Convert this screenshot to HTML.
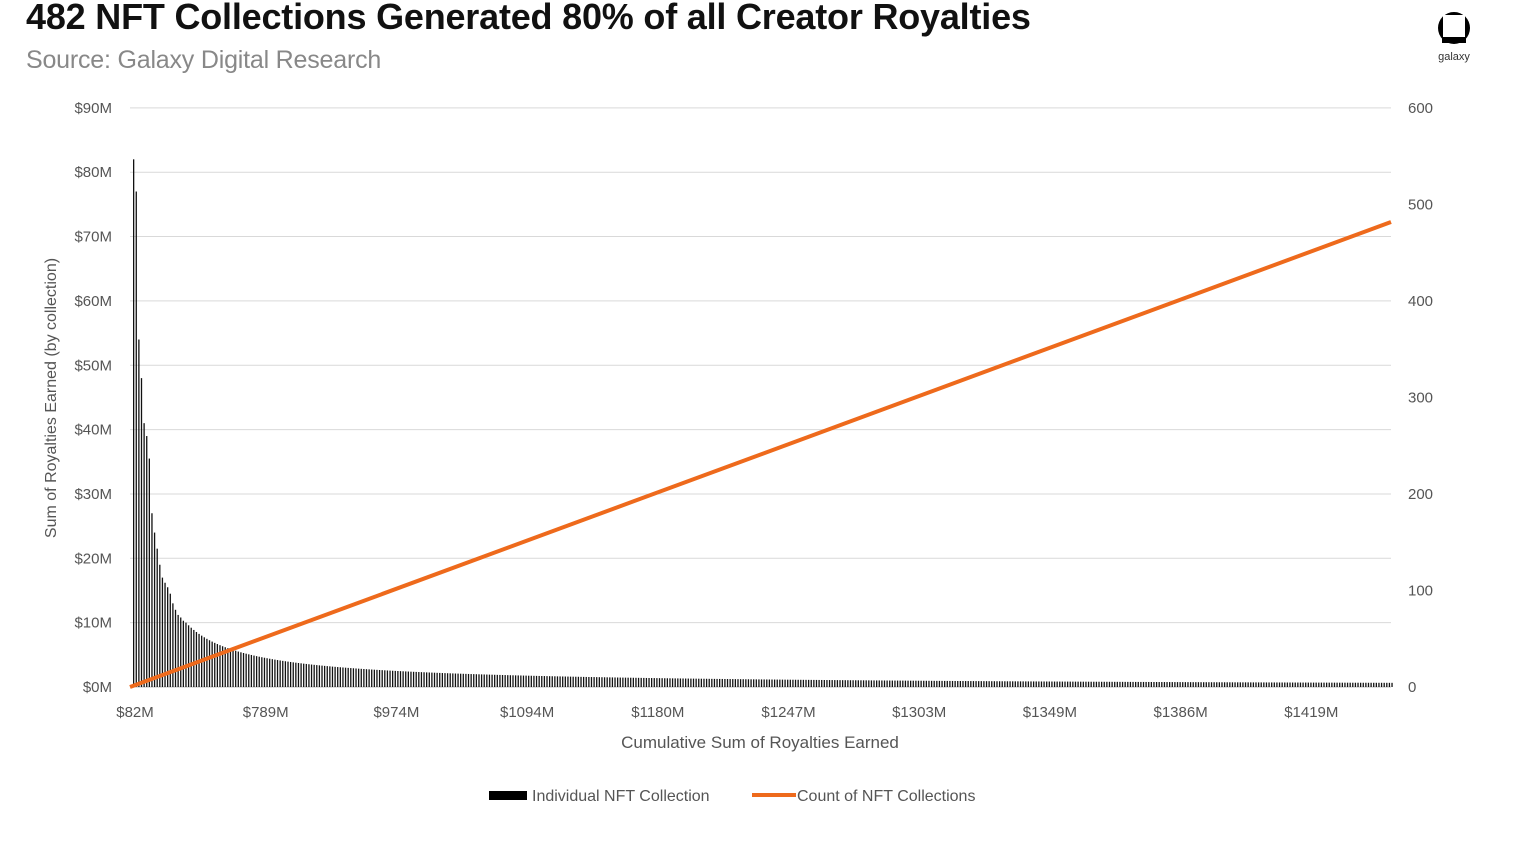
<!DOCTYPE html>
<html><head><meta charset="utf-8"><style>
body{margin:0;background:#fff;width:1522px;height:840px;overflow:hidden;font-family:"Liberation Sans",sans-serif;}
</style></head><body>
<svg id="s" width="1522" height="840" xmlns="http://www.w3.org/2000/svg" font-family="Liberation Sans, sans-serif">
<text x="26" y="29" font-size="36" font-weight="bold" letter-spacing="-0.2" fill="#111">482 NFT Collections Generated 80% of all Creator Royalties</text>
<text x="26" y="68" font-size="25" fill="#888" letter-spacing="-0.2">Source: Galaxy Digital Research</text>
<circle cx="1454" cy="28" r="16" fill="#000"/>
<rect x="1443" y="15" width="22" height="22" fill="#fff"/>
<rect x="1442" y="38" width="24" height="5" fill="#000"/>
<text x="1454" y="60" font-size="11" text-anchor="middle" fill="#333">galaxy</text>
<g id="grid" stroke="#d9d9d9" stroke-width="1"></g>
<g id="bars" fill="#111"></g>
<line x1="130" y1="687" x2="1391" y2="222" stroke="#ee6a1c" stroke-width="4"/>
<g id="lab" font-size="15" fill="#555"></g>
<text transform="translate(56,398) rotate(-90)" font-size="16" fill="#555" text-anchor="middle">Sum of Royalties Earned (by collection)</text>
<text x="760" y="748" font-size="17" fill="#555" text-anchor="middle">Cumulative Sum of Royalties Earned</text>
<rect x="489" y="791" width="38" height="9" fill="#000"/>
<text x="532" y="801" font-size="16" fill="#555">Individual NFT Collection</text>
<line x1="752" y1="795" x2="796" y2="795" stroke="#ee6a1c" stroke-width="4"/>
<text x="797" y="801" font-size="16" fill="#555">Count of NFT Collections</text>
</svg>
<script>
var NS="http://www.w3.org/2000/svg";
function el(p,t,a,txt){var e=document.createElementNS(NS,t);for(var k in a)e.setAttribute(k,a[k]);if(txt)e.textContent=txt;document.getElementById(p).appendChild(e);}
for(var i=0;i<=9;i++){var y=687-i*64.35;
 if(i>0)el("grid","line",{x1:130,x2:1391,y1:y,y2:y});
 el("lab","text",{x:112,y:y+5,"text-anchor":"end"},"$"+i*10+"M");}
for(var j=0;j<=6;j++){var y=687-j*96.5;el("lab","text",{x:1408,y:y+5},""+j*100);}
el("grid","line",{x1:130,x2:1391,y1:687,y2:687,stroke:"#bbb"});
var xs=["$82M","$789M","$974M","$1094M","$1180M","$1247M","$1303M","$1349M","$1386M","$1419M"];
for(var k=0;k<xs.length;k++)el("lab","text",{x:135+k*130.7,y:717,"text-anchor":"middle"},xs[k]);
var first=[82,77,54,48,41,39,35.5,27,24,21.5,19,17,16.2,15.5,14.5,13,12,11.2,10.8,10.3];
var w=1261/482;
for(var i=0;i<482;i++){var v=i<first.length?first[i]:10*Math.pow(i/20,-0.86);
 var h=v*6.435;el("bars","rect",{x:(133+i*w).toFixed(2),y:(687-h).toFixed(2),width:1.3,height:h.toFixed(2)});}
</script>
</body></html>
